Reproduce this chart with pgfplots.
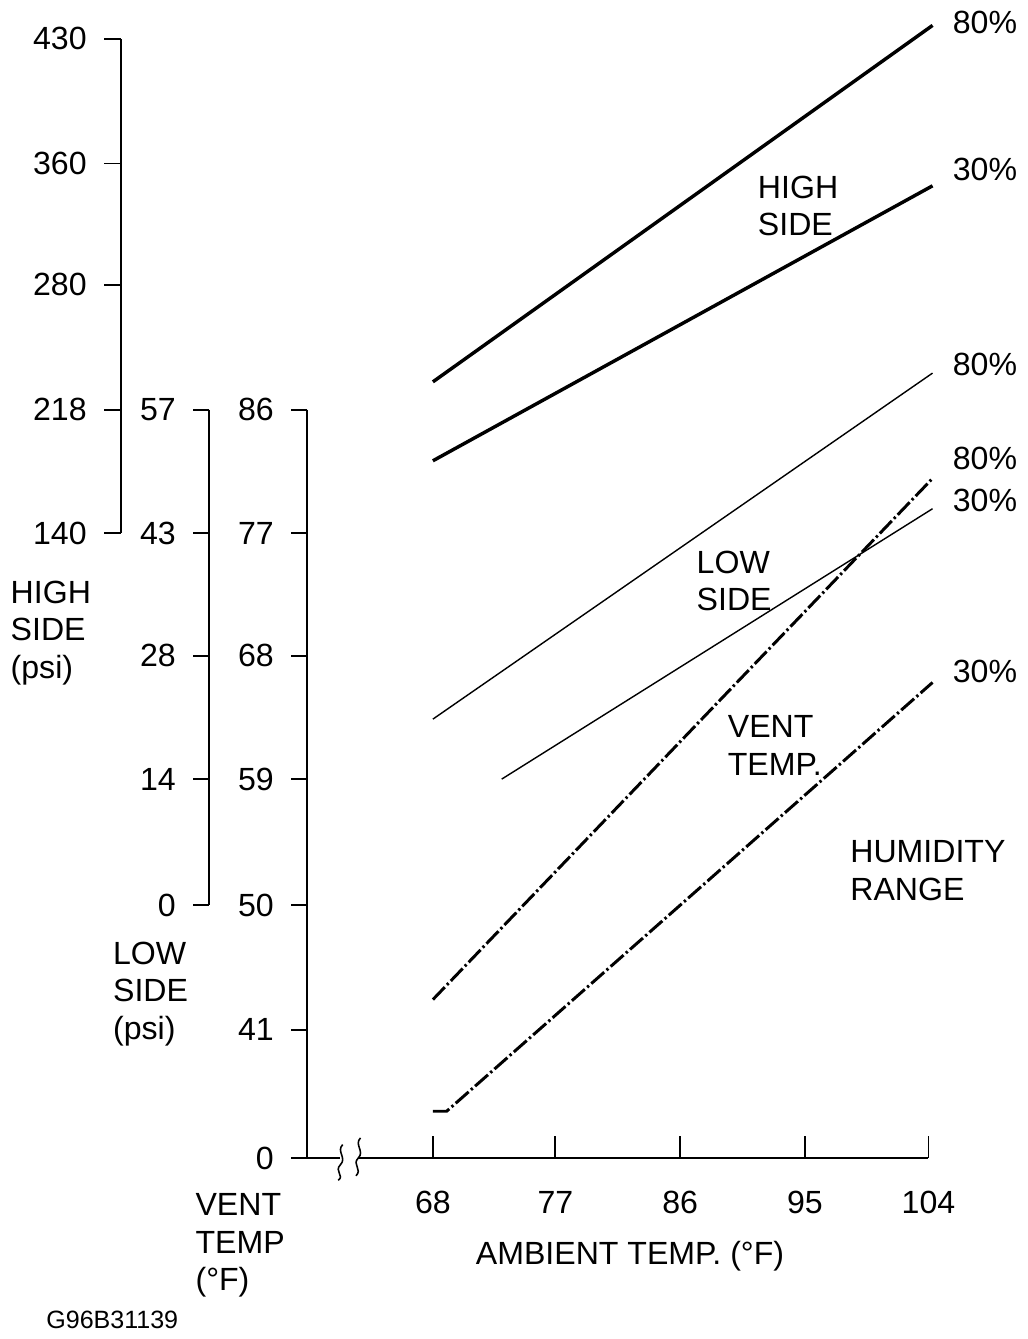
\documentclass[border=0pt]{standalone}
\usepackage{pgfplots}
\pgfplotsset{compat=1.18}
\usepackage{fontspec}
\setmainfont{Liberation Sans}
\newcommand\tickL[4]{% xa xb y label
  \draw[line width=1.2pt] (axis cs:#1,#3)--(axis cs:#2,#3);
  \node[anchor=east] at (axis cs:#1-6,#3) {#4};}
\newcommand\tickX[2]{%
  \draw[line width=1.2pt] (axis cs:#1,1110)--(axis cs:#1,1090);
  \node at (axis cs:#1,1150) {#2};}
\begin{document}
\fontsize{20.5}{24}\selectfont
\begin{tikzpicture}
\begin{axis}[hide axis, scale only axis, x=0.25mm, y=0.25mm, y dir=reverse,
  xmin=0,xmax=988,ymin=0,ymax=1339, clip=false, enlargelimits=false]
% scales
\draw[line width=1.2pt] (axis cs:143,105)--(axis cs:143,549);
\tickL{128}{143}{105}{430}\tickL{128}{143}{217}{360}\tickL{128}{143}{326}{280}\tickL{128}{143}{438}{218}\tickL{128}{143}{549}{140}
\draw[line width=1.2pt] (axis cs:222,438)--(axis cs:222,883);
\tickL{208}{222}{438}{57}\tickL{208}{222}{549}{43}\tickL{208}{222}{659}{28}\tickL{208}{222}{770}{14}\tickL{208}{222}{883}{0}
\draw[line width=1.2pt] (axis cs:310,438)--(axis cs:310,1110)--(axis cs:340,1110);
\draw[line width=1.2pt] (axis cs:356,1110)--(axis cs:868,1110);
\draw[line width=1pt] (axis cs:342,1098) .. controls (axis cs:336,1104) and (axis cs:346,1110) .. (axis cs:340,1116) .. controls (axis cs:334,1122) and (axis cs:344,1126) .. (axis cs:338,1130);
\draw[line width=1pt] (axis cs:358,1092) .. controls (axis cs:352,1098) and (axis cs:362,1104) .. (axis cs:356,1110) .. controls (axis cs:350,1116) and (axis cs:360,1120) .. (axis cs:354,1126);
\tickL{296}{310}{438}{86}\tickL{296}{310}{549}{77}\tickL{296}{310}{659}{68}\tickL{296}{310}{770}{59}\tickL{296}{310}{883}{50}\tickL{296}{310}{995}{41}\tickL{296}{310}{1110}{0}
\tickX{423}{68}\tickX{533}{77}\tickX{645}{86}\tickX{757}{95}\tickX{868}{104}
% labels
\node[align=left,anchor=north west] at (axis cs:34,582) {HIGH\\SIDE\\(psi)};
\node[align=left,anchor=north west] at (axis cs:126,906) {LOW\\SIDE\\(psi)};
\node[align=left,anchor=north west] at (axis cs:200,1132) {VENT\\TEMP\\(\textdegree F)};
\node at (axis cs:600,1198) {AMBIENT TEMP. (\textdegree F)};
\node[anchor=west,font=\fontsize{16}{18}\selectfont] at (axis cs:66,1255) {G96B31139};
\node[align=left,anchor=north west] at (axis cs:705,218) {HIGH\\SIDE};
\node[align=left,anchor=north west] at (axis cs:650,555) {LOW\\SIDE};
\node[align=left,anchor=north west] at (axis cs:678,703) {VENT\\TEMP.};
\node[align=left,anchor=north west] at (axis cs:788,815) {HUMIDITY\\RANGE};
\node[anchor=west] at (axis cs:880,90) {80\%};
\node[anchor=west] at (axis cs:880,397) {80\%};
\node[anchor=west] at (axis cs:880,482) {80\%};
\node[anchor=west] at (axis cs:880,222) {30\%};
\node[anchor=west] at (axis cs:880,520) {30\%};
\node[anchor=west] at (axis cs:880,673) {30\%};
% data
\pgfplotsset{amb/.style={x filter/.expression={423+(x-68)*12.36}}}
% high side (psi)
\pgfplotsset{hs/.style={amb, line width=2.2pt, y filter/.expression={
 ifthenelse(y<=218, 549-(y-140)*111/78, ifthenelse(y<=280, 438-(y-218)*112/62,
 ifthenelse(y<=360, 326-(y-280)*109/80, 217-(y-360)*112/70)))}}}
\addplot[hs] coordinates {(68,231.8) (104.3,437.5)};
\addplot[hs] coordinates {(68,185.7) (104.3,345.3)};
% low side (psi)
\pgfplotsset{ls/.style={amb, line width=0.9pt, y filter/.expression={883-y*7.807}}}
\addplot[ls] coordinates {(68,21.4) (104.3,61.2)};
\addplot[ls] coordinates {(73.0,14.5) (104.3,45.6)};
% vent temp (F)
\pgfplotsset{vt/.style={amb, line width=1.9pt, dash pattern=on 11pt off 2pt on 1.5pt off 2pt, y filter/.expression={995-(y-41)*12.38}}}
\addplot[vt] coordinates {(68,43.2) (104.3,81.0)};
\addplot[vt] coordinates {(68,35.1) (69.0,35.1) (104.3,66.2)};
\end{axis}
\end{tikzpicture}
\end{document}
